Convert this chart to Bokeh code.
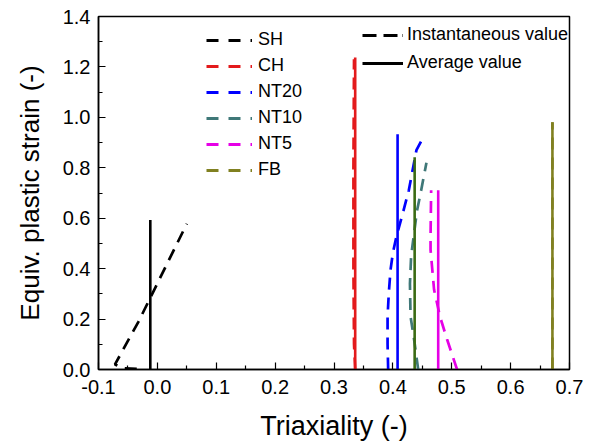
from bokeh.plotting import figure
from bokeh.models import (ColumnDataSource, Legend, LegendItem, FixedTicker,
                          NumeralTickFormatter, Range1d, Title)
from bokeh.embed import file_html
from bokeh.resources import INLINE

# ---------------- data ----------------
names = ["SH", "CH", "NT20", "NT10", "NT5", "FB"]
inst_colors = ["#000000", "#E31A1C", "#0000FF", "#3F7878", "#E600E6", "#808020"]
avg_colors = ["#000000", "#E31A1C", "#0000FF", "#3B6B14", "#E600E6", "#808020"]

# instantaneous value curves (triaxiality, equivalent plastic strain)
sh_x = [-0.035, -0.058, -0.072, -0.032, 0.005, 0.050]
sh_y = [0.003, 0.005, 0.020, 0.190, 0.365, 0.578]
ch_x = [0.336, 0.334, 0.333, 0.333, 0.334]
ch_y = [0.000, 0.100, 0.400, 0.800, 1.230]
nt20_x = [0.392, 0.391, 0.391, 0.393, 0.396, 0.400, 0.406, 0.418, 0.427, 0.440, 0.448]
nt20_y = [0.000, 0.100, 0.210, 0.300, 0.395, 0.462, 0.527, 0.630, 0.710, 0.870, 0.905]
nt10_x = [0.443, 0.436, 0.430, 0.429, 0.431, 0.436, 0.441, 0.448, 0.457]
nt10_y = [0.000, 0.120, 0.210, 0.340, 0.450, 0.540, 0.630, 0.710, 0.820]
nt5_x = [0.509, 0.492, 0.480, 0.470, 0.464, 0.464, 0.465]
nt5_y = [0.000, 0.120, 0.210, 0.316, 0.474, 0.527, 0.711]
fb_x = [0.671, 0.671]
fb_y = [0.000, 0.981]

inst_x = [sh_x, ch_x, nt20_x, nt10_x, nt5_x, fb_x]
inst_y = [sh_y, ch_y, nt20_y, nt10_y, nt5_y, fb_y]

# average values
avg_triax = [-0.012, 0.336, 0.408, 0.437, 0.477, 0.671]
avg_strain = [0.593, 1.237, 0.933, 0.842, 0.711, 0.981]
avg_base = [0.0, 0.0, 0.0, 0.0, 0.0, 0.0]

x_ticks = [-0.1, 0.0, 0.1, 0.2, 0.3, 0.4, 0.5, 0.6, 0.7]
x_minor = [-0.05, 0.05, 0.15, 0.25, 0.35, 0.45, 0.55, 0.65]
y_ticks = [0.0, 0.2, 0.4, 0.6, 0.8, 1.0, 1.2, 1.4]
y_minor = [0.1, 0.3, 0.5, 0.7, 0.9, 1.1, 1.3]

FONT = "Liberation Sans"

p = figure(width=589, height=443, x_range=Range1d(-0.1, 0.7), y_range=Range1d(0, 1.4),
           output_backend="svg", toolbar_location=None,
           min_border_left=98, min_border_right=20, min_border_top=16, min_border_bottom=74)
p.grid.visible = False
p.outline_line_color = "black"
p.outline_line_width = 1.5
p.background_fill_color = "white"

p.xaxis.ticker = FixedTicker(ticks=x_ticks, minor_ticks=x_minor)
p.yaxis.ticker = FixedTicker(ticks=y_ticks, minor_ticks=y_minor)
p.xaxis.formatter = NumeralTickFormatter(format="0.0")
p.yaxis.formatter = NumeralTickFormatter(format="0.0")
for ax in (p.xaxis, p.yaxis):
    ax.axis_line_width = 1.5
    ax.major_tick_in = 7
    ax.major_tick_out = 0
    ax.minor_tick_in = 4
    ax.minor_tick_out = 0
    ax.major_tick_line_width = 1.2
    ax.minor_tick_line_width = 1.2
    ax.major_label_text_font = FONT
    ax.major_label_text_font_size = "20px"
    ax.major_label_text_color = "black"
    ax.axis_label_text_font = FONT
    ax.axis_label_text_font_style = "normal"
    ax.axis_label_text_color = "black"
p.xaxis.axis_label_text_font_size = "27px"
p.xaxis.major_label_standoff = 10
p.yaxis.major_label_standoff = 8
p.xaxis.axis_label = "Triaxiality (-)"
p.xaxis.axis_label_standoff = 14

# y-axis title as a left-side title, pushed toward the outer edge and slightly below centre
ytitle = Title(text="Equiv. plastic strain (-)", align="center", vertical_align="top",
               offset=-20, standoff=25,
               text_font=FONT, text_font_size="26px", text_font_style="normal",
               text_color="black")
p.add_layout(ytitle, "left")

# instantaneous curves (dashed)
for xs, ys, c in zip(inst_x, inst_y, inst_colors):
    p.line(xs, ys, line_color=c, line_width=2.7, line_dash="12 8")

# average values (solid vertical lines)
avg_src = ColumnDataSource(dict(x=avg_triax, y0=avg_base, y1=avg_strain, c=avg_colors))
p.segment(x0="x", y0="y0", x1="x", y1="y1", line_color="c", line_width=2.6, source=avg_src)

# legend-only renderers, placed outside the visible ranges
off_x = [-1.0, -0.9]
off_y = [-1.0, -1.0]

# legend 1: series
items1 = []
for n, c in zip(names, inst_colors):
    r = p.line(x=off_x, y=off_y, line_color=c, line_width=3, line_dash="12 10 12 10 2 100")
    items1.append(LegendItem(label=n, renderers=[r]))
leg1 = Legend(items=items1, location=(108, 189), glyph_width=46, glyph_height=20,
              label_height=20, spacing=5, padding=0, margin=0, label_standoff=6,
              border_line_color=None, background_fill_alpha=0,
              label_text_font=FONT, label_text_font_size="18px", label_text_color="black")
p.add_layout(leg1)

# legend 2: line style meaning
r_inst = p.line(x=off_x, y=off_y, line_color="black", line_width=3, line_dash="14 7 14 5 2 100")
r_avg = p.line(x=off_x, y=off_y, line_color="black", line_width=3)
leg2 = Legend(items=[LegendItem(label="Instantaneous value", renderers=[r_inst]),
                     LegendItem(label="Average value", renderers=[r_avg])],
              location=(264, 296), glyph_width=41, glyph_height=20,
              label_height=20, spacing=7, padding=0, margin=0, label_standoff=4,
              border_line_color=None, background_fill_alpha=0,
              label_text_font=FONT, label_text_font_size="18px", label_text_color="black")
p.add_layout(leg2)

open("out.html", "w").write(file_html(p, INLINE))
